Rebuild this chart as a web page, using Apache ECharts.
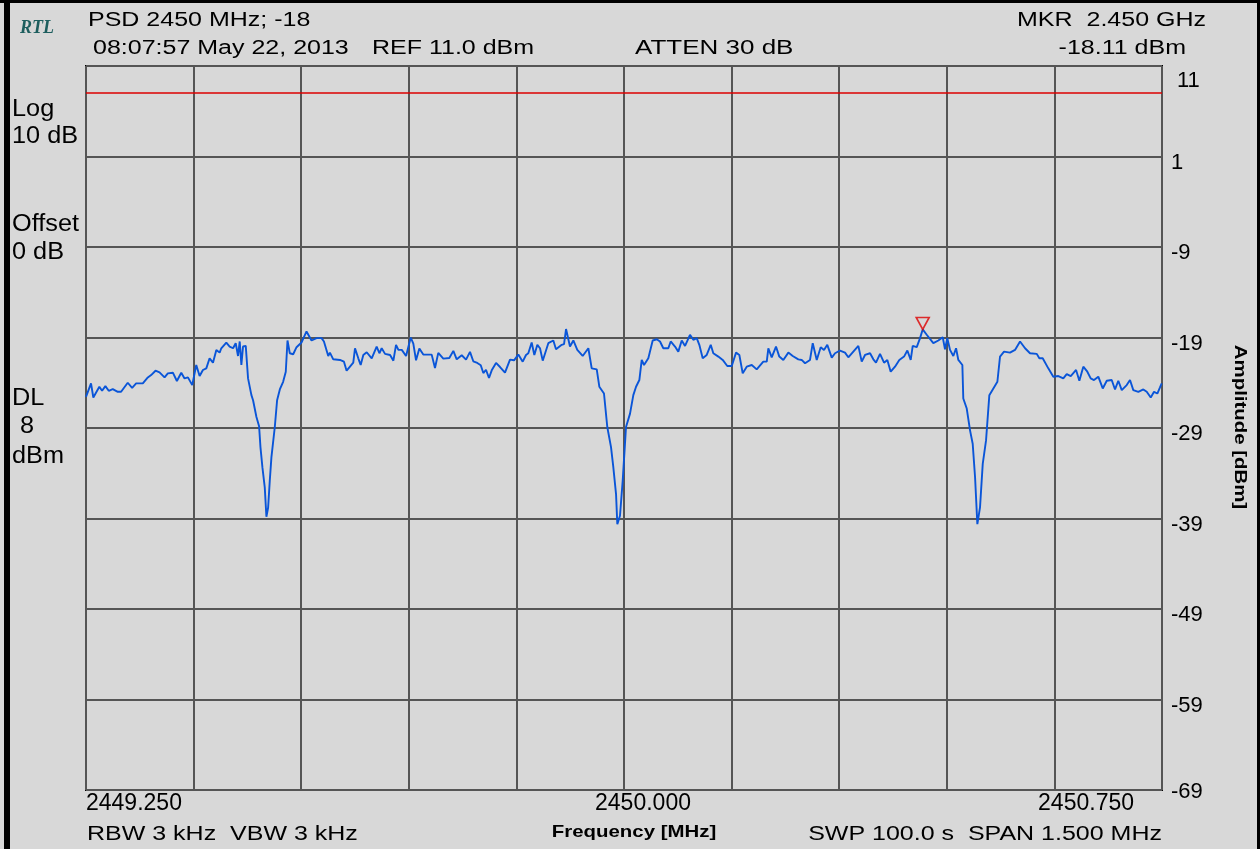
<!DOCTYPE html>
<html>
<head>
<meta charset="utf-8">
<script src="https://cdn.jsdelivr.net/npm/echarts@6/dist/echarts.min.js"></script>
<style>
html, body { margin: 0; padding: 0; background: #d8d8d8; }
#chart { width: 1260px; height: 849px; }
</style>
</head>
<body>
<div id="chart"></div>
<script>
// sweep: [frequency MHz, amplitude dBm]
const sweepLow = [
  [2449.2500,-25.56],[2449.2570,-24.07],[2449.2602,-25.63],[2449.2686,-24.44],[2449.2724,-24.89],
  [2449.2770,-24.37],[2449.2817,-24.89],[2449.2873,-24.70],[2449.2943,-25.00],[2449.2989,-25.00],
  [2449.3082,-24.00],[2449.3143,-24.56],[2449.3199,-24.07],[2449.3292,-24.07],[2449.3362,-23.41],
  [2449.3408,-23.15],[2449.3469,-22.67],[2449.3525,-22.85],[2449.3595,-23.41],[2449.3641,-22.96],
  [2449.3711,-22.89],[2449.3767,-23.81],[2449.3828,-22.89],[2449.3874,-23.52],[2449.3921,-23.41],
  [2449.3981,-24.26],[2449.4037,-22.04],[2449.4084,-23.26],[2449.4130,-22.59],[2449.4177,-22.41],
  [2449.4223,-21.30],[2449.4270,-21.78],[2449.4317,-20.37],[2449.4363,-20.67],[2449.4386,-20.19],
  [2449.4456,-19.56],[2449.4503,-20.00],[2449.4550,-20.19],[2449.4587,-19.63],[2449.4619,-21.04],
  [2449.4643,-19.44],[2449.4666,-22.04],[2449.4689,-20.00],[2449.4727,-19.93],[2449.4759,-23.52],
  [2449.4806,-25.37],[2449.4829,-25.93],[2449.4876,-27.78],[2449.4913,-28.81],[2449.4932,-31.11],
  [2449.4959,-33.33],[2449.4992,-35.56],[2449.5015,-38.81],[2449.5039,-37.78],[2449.5062,-34.81],
  [2449.5085,-32.22],[2449.5132,-28.89],[2449.5164,-25.93],[2449.5202,-24.74],[2449.5248,-23.89],
  [2449.5285,-22.78],[2449.5309,-19.33],[2449.5341,-20.74],[2449.5388,-20.85],[2449.5435,-20.07],
  [2449.5504,-19.56],[2449.5574,-18.33],[2449.5644,-19.33],[2449.5714,-19.07],[2449.5784,-19.07],
  [2449.5817,-19.44],[2449.5877,-21.04],[2449.5900,-20.67],[2449.5947,-21.41],[2449.6040,-21.48],
  [2449.6096,-21.67],[2449.6133,-22.67],[2449.6180,-22.22],[2449.6226,-21.78],[2449.6250,-20.19],
  [2449.6296,-21.30],[2449.6329,-22.04],[2449.6366,-20.93],[2449.6413,-20.63],[2449.6483,-21.30],
  [2449.6552,-20.00],[2449.6590,-20.74],[2449.6622,-20.19],[2449.6669,-20.81],[2449.6739,-20.93],
  [2449.6785,-21.56],[2449.6822,-19.81],[2449.6855,-20.37],[2449.6902,-20.37],[2449.6962,-21.04],
  [2449.7027,-19.00],[2449.7063,-19.67],[2449.7101,-21.52],[2449.7147,-20.22],[2449.7202,-20.89],
  [2449.7319,-20.89],[2449.7365,-22.37],[2449.7411,-20.70],[2449.7481,-21.33],[2449.7565,-21.26],
  [2449.7621,-20.48],[2449.7668,-21.41],[2449.7738,-20.96],[2449.7798,-21.44],[2449.7853,-20.59],
  [2449.7899,-21.63],[2449.7955,-21.81],[2449.8003,-22.07],[2449.8039,-22.93],[2449.8076,-22.56],
  [2449.8118,-23.48],[2449.8156,-22.63],[2449.8216,-21.81],[2449.8272,-22.26],[2449.8341,-22.89],
  [2449.8411,-21.44],[2449.8467,-21.52],[2449.8527,-20.89]
];
const sweepMid = [
  [2449.8550,-20.93],[2449.8588,-21.67],[2449.8634,-20.93],[2449.8666,-20.74],[2449.8713,-19.56],
  [2449.8750,-20.93],[2449.8792,-19.81],[2449.8829,-20.19],[2449.8867,-21.56],[2449.8945,-19.63],
  [2449.9015,-19.33],[2449.9052,-20.30],[2449.9132,-19.81],[2449.9164,-19.74],[2449.9192,-18.07],
  [2449.9247,-20.00],[2449.9294,-19.33],[2449.9349,-20.37],[2449.9424,-21.04],[2449.9503,-20.19],
  [2449.9550,-22.41],[2449.9620,-22.52],[2449.9656,-24.44],[2449.9721,-25.19],[2449.9767,-28.89],
  [2449.9819,-31.11],[2449.9851,-33.33],[2449.9889,-36.30],[2449.9907,-39.63],[2449.9944,-38.70],
  [2449.9982,-34.81],[2450.0028,-28.89],[2450.0084,-27.41],[2450.0130,-25.37],[2450.0168,-24.44],
  [2450.0214,-23.70],[2450.0247,-21.48],[2450.0279,-22.04],[2450.0339,-21.30],[2450.0400,-19.33],
  [2450.0456,-19.19],[2450.0502,-19.44],[2450.0548,-20.19],[2450.0618,-20.19],[2450.0651,-19.44],
  [2450.0711,-20.00],[2450.0757,-20.56],[2450.0805,-19.33],[2450.0851,-19.93],[2450.0920,-18.70],
  [2450.0966,-19.26],[2450.1014,-19.07],[2450.1050,-19.81],[2450.1097,-21.30],[2450.1153,-20.93],
  [2450.1209,-19.81],[2450.1245,-20.74],[2450.1315,-21.11],[2450.1376,-21.48],[2450.1440,-22.15],
  [2450.1502,-22.15],[2450.1562,-20.67],[2450.1608,-20.93],[2450.1655,-22.96],[2450.1711,-22.22],
  [2450.1781,-22.04],[2450.1850,-22.52],[2450.1942,-21.67],[2450.1990,-21.67],[2450.2012,-20.19],
  [2450.2059,-21.19],[2450.2119,-20.00],[2450.2165,-21.11],[2450.2221,-21.48],[2450.2291,-20.67],
  [2450.2352,-21.04],[2450.2430,-21.41]
];
const sweepHigh = [
  [2450.2477,-21.48],[2450.2524,-21.85],[2450.2593,-21.48],[2450.2631,-19.63],[2450.2687,-21.48],
  [2450.2742,-20.07],[2450.2788,-20.37],[2450.2834,-19.81],[2450.2896,-21.22],[2450.2942,-20.74],
  [2450.3011,-20.44],[2450.3081,-20.67],[2450.3127,-21.19],[2450.3197,-20.56],[2450.3267,-19.93],
  [2450.3314,-21.67],[2450.3360,-20.93],[2450.3430,-20.74],[2450.3476,-21.41],[2450.3513,-21.78],
  [2450.3569,-20.81],[2450.3625,-21.78],[2450.3671,-21.48],[2450.3718,-22.78],[2450.3778,-22.22],
  [2450.3838,-21.48],[2450.3904,-21.11],[2450.3950,-20.44],[2450.3997,-21.48],[2450.4025,-19.93],
  [2450.4081,-20.07],[2450.4127,-19.07],[2450.4164,-18.11],[2450.4220,-18.70],[2450.4312,-19.63],
  [2450.4382,-19.33],[2450.4443,-18.96],[2450.4475,-20.30],[2450.4507,-19.07],[2450.4545,-20.37],
  [2450.4591,-21.04],[2450.4629,-20.19],[2450.4661,-21.48],[2450.4717,-22.04],[2450.4730,-25.74],
  [2450.4778,-26.85],[2450.4824,-29.26],[2450.4861,-30.74],[2450.4894,-34.44],[2450.4926,-39.63],
  [2450.4963,-37.78],[2450.5001,-32.96],[2450.5047,-30.37],[2450.5093,-25.37],[2450.5149,-24.63],
  [2450.5205,-23.89],[2450.5242,-21.11],[2450.5298,-20.56],[2450.5381,-20.67],[2450.5451,-20.37],
  [2450.5521,-19.44],[2450.5591,-20.19],[2450.5660,-20.74],[2450.5754,-20.81],[2450.5790,-21.30],
  [2450.5837,-21.30],[2450.5915,-22.41],[2450.5985,-23.33],[2450.6055,-23.26],[2450.6124,-23.52],
  [2450.6172,-23.04],[2450.6228,-23.26],[2450.6302,-22.59],[2450.6348,-23.78],[2450.6403,-22.22],
  [2450.6459,-22.78],[2450.6506,-23.52],[2450.6552,-23.70],[2450.6612,-23.33],[2450.6674,-24.63],
  [2450.6730,-23.78],[2450.6799,-23.70],[2450.6845,-24.74],[2450.6891,-23.78],[2450.6939,-24.81],
  [2450.7008,-24.26],[2450.7054,-23.70],[2450.7100,-24.81],[2450.7170,-25.00],[2450.7240,-24.74],
  [2450.7287,-25.00],[2450.7343,-25.63],[2450.7389,-25.00],[2450.7435,-25.19],[2450.7472,-24.52],
  [2450.7496,-24.07]
];
const marker = [[2450.4164, -18.11]];
const displayLine = 8;          // DL 8 dBm
const freqRange = [2449.25, 2450.75];
const freqStep = 0.15;          // 10 divisions, span 1.5 MHz
const freqLabelIdx = [0, 5, 10];
const ampRange = [-69, 11];
const ampStep = 10;             // Log 10 dB

const chart = echarts.init(document.getElementById('chart'));
const FONT = 'Liberation Sans, Arial, sans-serif';

// instrument text is drawn a bit wider than the font
function txt(s, x, y, o) {
  o = o || {};
  return {
    type: 'text', x: x, y: y, scaleX: o.sx || 1.25, rotation: o.rot || 0,
    style: {
      text: s, fill: o.color || '#000',
      font: (o.style || '') + ' ' + (o.size || 20) + 'px ' + (o.family || FONT),
      align: o.align || 'left', textAlign: o.align || 'left',
      verticalAlign: 'middle', textVerticalAlign: 'middle'
    }
  };
}

const option = {
  backgroundColor: '#d8d8d8',
  animation: false,
  grid: { left: 86, right: 98, top: 66, bottom: 59, show: true, borderColor: '#000', borderWidth: 2, outerBoundsMode: 'none' },
  xAxis: {
    type: 'value', min: freqRange[0], max: freqRange[1], interval: freqStep,
    axisLine: { show: false }, axisTick: { show: false },
    splitLine: { show: true, lineStyle: { color: '#555', width: 2 } },
    axisLabel: {
      margin: 2, color: '#000', fontSize: 23, fontFamily: FONT,
      alignMinLabel: 'left', alignMaxLabel: 'right',
      formatter: function (v, i) {
        if (freqLabelIdx.indexOf(i) < 0) return '';
        const s = v.toFixed(3);
        if (i === 5) return '{c|' + s + '}';
        if (i === 10) return '{r|' + s + '}';
        return s;
      },
      rich: {
        c: { fontSize: 23, fontFamily: FONT, color: '#000', padding: [0, 0, 0, 38] },
        r: { fontSize: 23, fontFamily: FONT, color: '#000', padding: [0, 28, 0, 0] }
      }
    }
  },
  yAxis: {
    type: 'value', position: 'right', min: ampRange[0], max: ampRange[1], interval: ampStep,
    axisLine: { show: false }, axisTick: { show: false },
    splitLine: { show: true, lineStyle: { color: '#555', width: 2 } },
    axisLabel: {
      margin: 9, color: '#000', align: 'left', verticalAlign: 'middle',
      formatter: function (v) {
        if (v === ampRange[1]) return '{t|' + v + '}';
        if (v === ampRange[0]) return '{b|' + v + '}';
        return '{n|' + v + '}';
      },
      rich: {
        n: { fontSize: 22, fontFamily: FONT, color: '#000', lineHeight: 22, padding: [12, 0, 0, 0] },
        t: { fontSize: 22, fontFamily: FONT, color: '#000', lineHeight: 22, padding: [30, 0, 0, 6] },
        b: { fontSize: 22, fontFamily: FONT, color: '#000', lineHeight: 22, padding: [4, 0, 0, 0] }
      }
    }
  },
  series: [
    {
      type: 'line', data: sweepLow.concat(sweepMid, sweepHigh), showSymbol: false,
      lineStyle: { color: '#0a55d8', width: 1.9 }, z: 3,
      markLine: {
        silent: true, symbol: 'none', label: { show: false },
        lineStyle: { color: '#dd0000', width: 1.6, type: 'solid' },
        data: [{ yAxis: displayLine }]
      }
    },
    {
      type: 'scatter', data: marker, symbol: 'triangle', symbolRotate: 180,
      symbolSize: [13, 12], symbolOffset: [0, -6], z: 4,
      itemStyle: { color: 'rgba(0,0,0,0)', borderColor: '#dd0000', borderWidth: 1.6 }
    }
  ],
  graphic: [
    { type: 'rect', shape: { x: 4, y: 0, width: 6, height: 849 }, style: { fill: '#000' } },
    { type: 'rect', shape: { x: 0, y: 0, width: 1260, height: 3 }, style: { fill: '#000' } },
    { type: 'rect', shape: { x: 1257, y: 0, width: 3, height: 849 }, style: { fill: '#000' } },
    txt('RTL', 20, 28, { size: 18, sx: 1, style: 'italic bold', family: 'Liberation Serif, serif', color: '#1d5e5e' }),
    txt('PSD 2450 MHz; -18', 88, 20),
    txt('08:07:57 May 22, 2013', 93, 48),
    txt('REF 11.0 dBm', 372, 48),
    txt('ATTEN 30 dB', 635, 48, { sx: 1.3 }),
    txt('MKR  2.450 GHz', 1206, 20, { align: 'right' }),
    txt('-18.11 dBm', 1186, 48, { align: 'right' }),
    txt('Log', 12, 110, { size: 23, sx: 1.1 }),
    txt('10 dB', 12, 137, { size: 23, sx: 1.1 }),
    txt('Offset', 12, 225, { size: 23, sx: 1.1 }),
    txt('0 dB', 12, 253, { size: 23, sx: 1.1 }),
    txt('DL', 12, 399, { size: 23, sx: 1.1 }),
    txt('8', 20, 427, { size: 23, sx: 1.1 }),
    txt('dBm', 12, 457, { size: 23, sx: 1.1 }),
    txt('RBW 3 kHz  VBW 3 kHz', 87, 834),
    txt('SWP 100.0 s  SPAN 1.500 MHz', 1162, 834, { align: 'right' }),
    txt('Frequency [MHz]', 634, 832, { size: 17, sx: 1.2, style: 'bold', align: 'center' }),
    txt('Amplitude [dBm]', 1240, 427, { size: 17, sx: 1.2, style: 'bold', align: 'center', rot: -Math.PI / 2 })
  ]
};
chart.setOption(option);
</script>
</body>
</html>
